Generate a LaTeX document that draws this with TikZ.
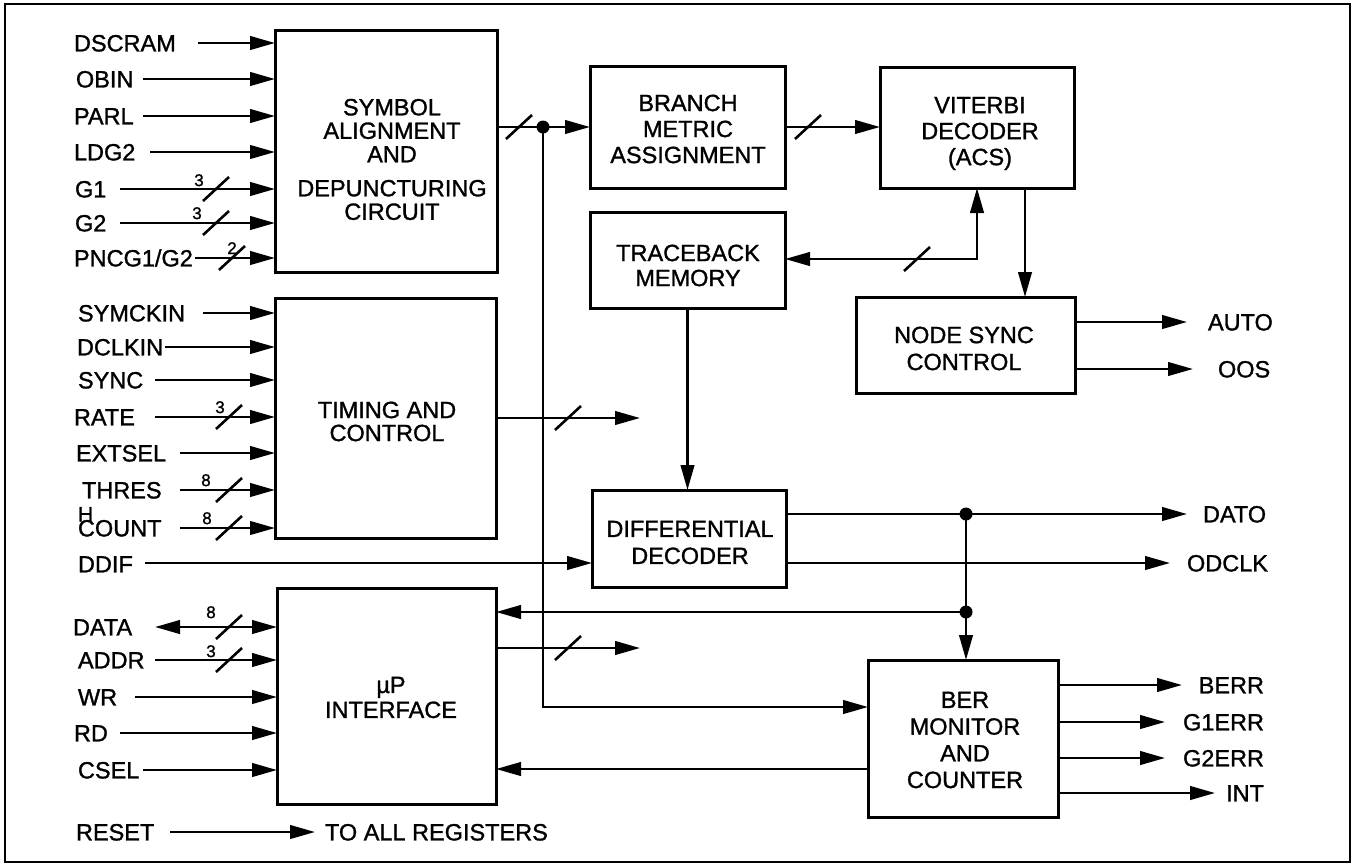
\documentclass[tikz,border=0pt]{standalone}
\usepackage{fontspec}
\setmainfont{Liberation Sans}[RawFeature={embolden=1.2}]
\usetikzlibrary{arrows.meta}
\begin{document}
\begin{tikzpicture}[x=1pt,y=-1pt,
  every node/.style={font=\fontsize{23.5}{25}\selectfont, inner sep=0pt, outer sep=0pt},
  blk/.style={draw, line width=3pt},
  btxt/.style={align=center},
  wire/.style={line width=2.6pt},
  arr/.style={wire, -{Triangle[length=25pt,width=13.5pt]}},
  darr/.style={wire, {Triangle[length=25pt,width=13.5pt]}-{Triangle[length=25pt,width=13.5pt]}},
  lbl/.style={anchor=west, text height=16.8pt, text depth=0pt},
  rlbl/.style={anchor=east, text height=16.8pt, text depth=0pt},
  num/.style={font=\fontsize{17}{17}\selectfont, text height=12.2pt, text depth=0pt},
  jdot/.style={circle, fill, minimum size=13pt, inner sep=0pt},
  bus/.pic={\draw[line width=2.6pt] (-13,12) -- (13,-12);}
]
\useasboundingbox (0,0) rectangle (1356,865);
\draw[line width=2pt] (5,4) rectangle (1350,862);

% ---------- blocks ----------
\node[blk, minimum width=222pt, minimum height=242pt] (sym) at (386,151) {};
\node[blk, minimum width=221pt, minimum height=240pt] (tim) at (385.5,418) {};
\node[blk, minimum width=219pt, minimum height=216pt] (up)  at (386.5,696) {};
\node[blk, minimum width=195pt, minimum height=122pt] (bma) at (687.5,127) {};
\node[blk, minimum width=194pt, minimum height=121pt] (vit) at (977,127.5) {};
\node[blk, minimum width=195pt, minimum height=96pt]  (tbm) at (687.5,260) {};
\node[blk, minimum width=219pt, minimum height=96pt]  (nsc) at (965.5,345) {};
\node[blk, minimum width=194pt, minimum height=97pt]  (dd)  at (689,538.5) {};
\node[blk, minimum width=190pt, minimum height=157pt] (ber) at (963,738.5) {};

% ---------- block texts ----------
\node[btxt, font=\fontsize{23.5}{23.5}\selectfont] (symt) at (392,159.5) {SYMBOL\\ALIGNMENT\\AND\\[10.5pt]DEPUNCTURING\\CIRCUIT};
\node[btxt, font=\fontsize{23.5}{23}\selectfont] (timt) at (387,421.5) {TIMING AND\\CONTROL};
\node[btxt, font=\fontsize{23.5}{25}\selectfont] (upt) at (391,697.5) {µP\\INTERFACE};
\node[btxt, font=\fontsize{23.5}{26}\selectfont] (bmat) at (688,129) {BRANCH\\METRIC\\ASSIGNMENT};
\node[btxt, font=\fontsize{23.5}{26}\selectfont] (vitt) at (980,133.5) {VITERBI\\DECODER\\(ACS)};
\node[btxt, font=\fontsize{23.5}{25}\selectfont] (tbmt) at (688,265.5) {TRACEBACK\\MEMORY};
\node[btxt, font=\fontsize{23.5}{27}\selectfont] (nsct) at (964,348.5) {NODE SYNC\\CONTROL};
\node[btxt, font=\fontsize{23.5}{27}\selectfont] (ddt) at (690,542.5) {DIFFERENTIAL\\DECODER};
\node[btxt, font=\fontsize{23.5}{26.7}\selectfont] (bert) at (965,740) {BER\\MONITOR\\AND\\COUNTER};

% ---------- left input labels ----------
\node[lbl] (lDSCRAM) at (74,43) {DSCRAM};
\node[lbl] (lOBIN) at (76,79) {OBIN};
\node[lbl] (lPARL) at (74,116) {PARL};
\node[lbl] (lLDG2) at (74,152) {LDG2};
\node[lbl] (lG1) at (75,189) {G1};
\node[lbl] (lG2) at (75,223) {G2};
\node[lbl] (lPNCG) at (74,258) {PNCG1/G2};
\node[lbl] (lSYMCKIN) at (78,313) {SYMCKIN};
\node[lbl] (lDCLKIN) at (77,347) {DCLKIN};
\node[lbl] (lSYNC) at (78,380) {SYNC};
\node[lbl] (lRATE) at (74,417) {RATE};
\node[lbl] (lEXTSEL) at (76,453) {EXTSEL};
\node[lbl] (lTHRES) at (82,490) {THRES};
\node[lbl, font=\fontsize{21}{21}\selectfont, text height=15pt] (lH) at (78,514) {H};
\node[lbl] (lCOUNT) at (78,528) {COUNT};
\node[lbl] (lDDIF) at (78,564) {DDIF};
\node[lbl] (lDATA) at (73,627) {DATA};
\node[lbl] (lADDR) at (78,660) {ADDR};
\node[lbl] (lWR) at (78,697) {WR};
\node[lbl] (lRD) at (74,733) {RD};
\node[lbl] (lCSEL) at (78,770) {CSEL};
\node[lbl] (lRESET) at (76,832) {RESET};
\node[lbl] (toall) at (325,832) {TO ALL REGISTERS};

% ---------- right output labels ----------
\node[lbl] (lAUTO) at (1208,322) {AUTO};
\node[lbl] (lOOS) at (1218,369) {OOS};
\node[lbl] (lDATO) at (1203,514) {DATO};
\node[lbl] (lODCLK) at (1187,563) {ODCLK};
\node[rlbl] (lBERR) at (1264,685) {BERR};
\node[rlbl] (lG1ERR) at (1264,722) {G1ERR};
\node[rlbl] (lG2ERR) at (1264,758) {G2ERR};
\node[rlbl] (lINT) at (1264,793) {INT};

% ---------- bus width numbers ----------
\node[num] (nG1) at (199,180) {3};
\node[num] (nG2) at (197,213) {3};
\node[num] (nPNCG) at (232,248) {2};
\node[num] (nRATE) at (220,407) {3};
\node[num] (nTHRES) at (206,480) {8};
\node[num] (nCOUNT) at (207,518) {8};
\node[num] (nDATA) at (211,612) {8};
\node[num] (nADDR) at (211,651) {3};

% ---------- input start points ----------
\coordinate (cDSCRAM) at (198,43);
\coordinate (cOBIN) at (143,79);
\coordinate (cPARL) at (143,116);
\coordinate (cLDG2) at (150,152);
\coordinate (cG1) at (120,189);
\coordinate (cG2) at (120,223);
\coordinate (cPNCG) at (195,258);
\coordinate (cSYMCKIN) at (203,313);
\coordinate (cDCLKIN) at (165,347);
\coordinate (cSYNC) at (155,380);
\coordinate (cRATE) at (155,417);
\coordinate (cEXTSEL) at (180,453);
\coordinate (cTHRES) at (180,490);
\coordinate (cCOUNT) at (180,528);
\coordinate (cDDIF) at (145,563);
\coordinate (cDATA) at (155,627);
\coordinate (cADDR) at (155,660);
\coordinate (cWR) at (135,697);
\coordinate (cRD) at (120,733);
\coordinate (cCSEL) at (143,770);
\coordinate (cRESET) at (170,832);

\foreach \n in {DSCRAM,OBIN,PARL,LDG2,G1,G2,PNCG}
  \draw[arr] (c\n) -- (c\n -| sym.west);
\foreach \n in {SYMCKIN,DCLKIN,SYNC,RATE,EXTSEL,THRES,COUNT}
  \draw[arr] (c\n) -- (c\n -| tim.west);
\foreach \n in {ADDR,WR,RD,CSEL}
  \draw[arr] (c\n) -- (c\n -| up.west);
\draw[darr] (cDATA) -- (cDATA -| up.west);
\draw[arr] (cDDIF) -- (cDDIF -| dd.west);
\draw[arr] (cRESET) -- ([xshift=-10pt]toall.west);

% bus marks on inputs
\pic at (216,189) {bus};
\pic at (216,223) {bus};
\pic at (232,258) {bus};
\pic at (229,417) {bus};
\pic at (229,490) {bus};
\pic at (229,528) {bus};
\pic at (229,627) {bus};
\pic at (229,660) {bus};

% ---------- internal connections ----------
\node[jdot] (d1) at (543,127) {};
\node[jdot] (d2) at (966,514) {};
\node[jdot] (d3) at (966,612) {};

\draw[arr] (sym.east |- d1) -- (d1 -| bma.west);
\pic at (519,127) {bus};
\coordinate (bmin) at (543,707);
\draw[arr] (d1.center) -- (bmin) -- (bmin -| ber.west);

\draw[arr] (bma.east) -- (bma.east -| vit.west);
\pic at (808,127) {bus};

\coordinate (tbk) at (977,259);
\draw[darr] (tbm.east |- tbk) -- (tbk) -- (tbk |- vit.south);
\pic at (917,259) {bus};

\coordinate (vx) at (1025,200);
\draw[arr] (vit.south -| vx) -- (nsc.north -| vx);

\coordinate (oAUTO) at (1187,322);
\coordinate (oOOS) at (1193,369);
\draw[arr] (nsc.east |- oAUTO) -- (oAUTO);
\draw[arr] (nsc.east |- oOOS) -- (oOOS);

\draw[arr] (tbm.south) -- (tbm.south |- dd.north);

\coordinate (otim) at (640,418);
\draw[arr] (tim.east |- otim) -- (otim);
\pic at (568,418) {bus};

\coordinate (oDATO) at (1187,514);
\coordinate (oODCLK) at (1170,563);
\draw[arr] (dd.east |- oDATO) -- (oDATO);
\draw[arr] (dd.east |- oODCLK) -- (oODCLK);

\draw[wire] (d2.center) -- (d3.center);
\draw[arr] (d3.center) -- (d3.center |- ber.north);
\draw[arr] (d3.center) -- (d3.center -| up.east);

\coordinate (oup) at (640,648);
\draw[arr] (up.east |- oup) -- (oup);
\pic at (568,648) {bus};

\coordinate (bup) at (868,769);
\draw[arr] (ber.west |- bup) -- (bup -| up.east);

\coordinate (oBERR) at (1182,685);
\coordinate (oG1ERR) at (1165,722);
\coordinate (oG2ERR) at (1165,758);
\coordinate (oINT) at (1215,793);
\foreach \n in {BERR,G1ERR,G2ERR,INT}
  \draw[arr] (ber.east |- o\n) -- (o\n);
\end{tikzpicture}
\end{document}
